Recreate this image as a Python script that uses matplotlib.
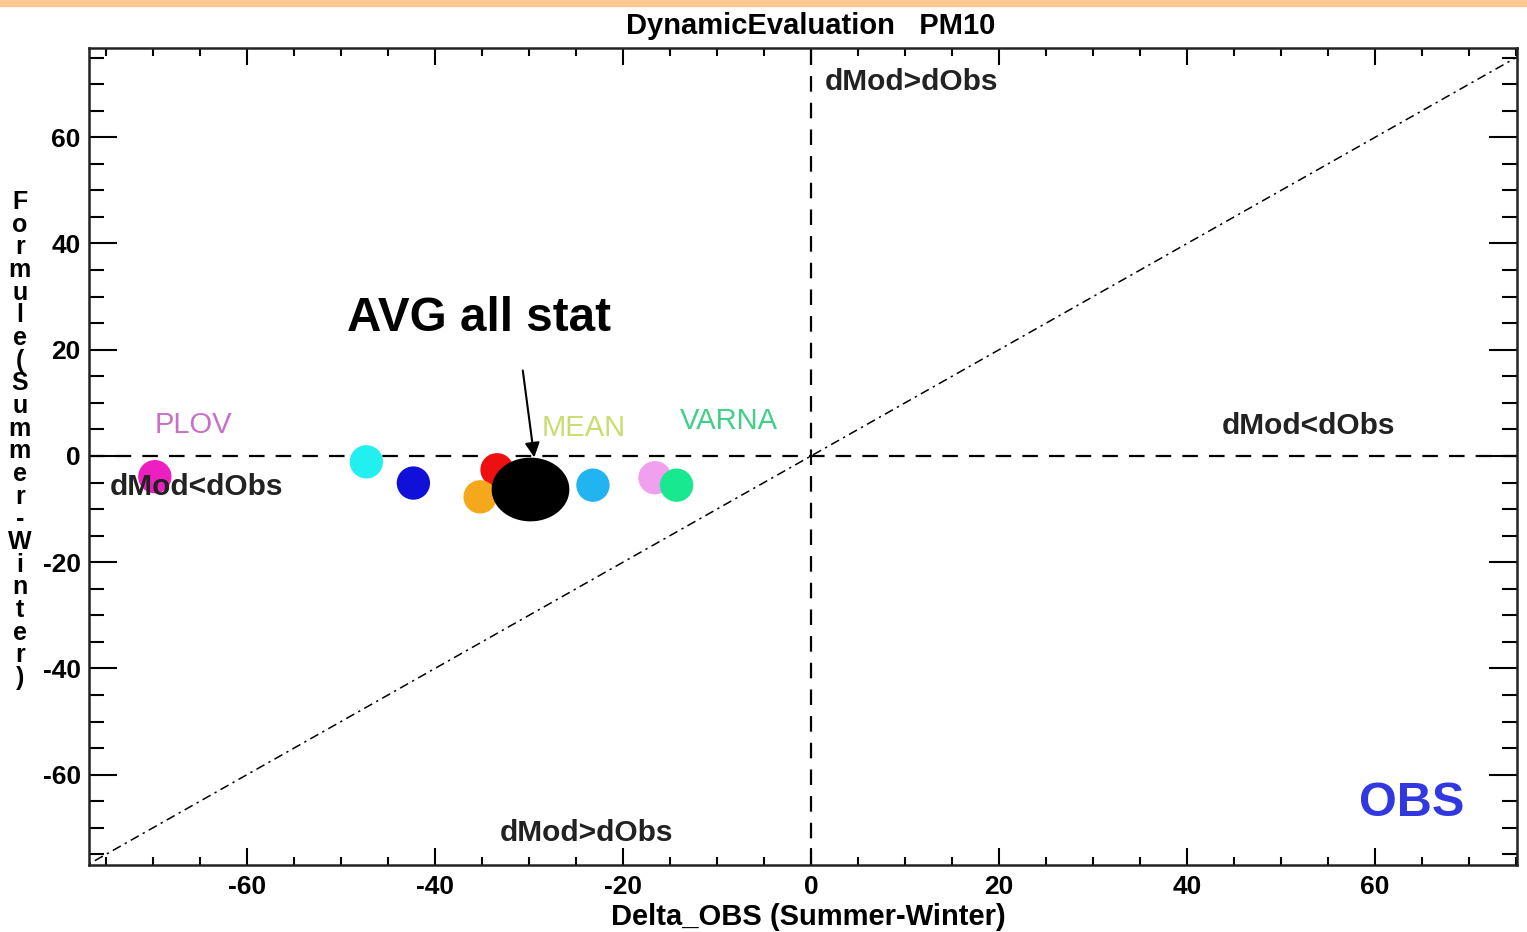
import numpy as np
import matplotlib
matplotlib.use("Agg")
import matplotlib.pyplot as plt
from matplotlib.path import Path
from matplotlib.patches import Rectangle
from matplotlib.ticker import MultipleLocator

plt.rcParams['font.family'] = ['Liberation Sans', 'DejaVu Sans']
plt.rcParams['axes.unicode_minus'] = False

# Station points: Delta_OBS vs Formule (Summer-Winter)
station_x = [-69.8, -47.3, -42.3, -33.4, -35.2]
station_y = [-3.9, -1.1, -5.1, -2.6, -7.7]
station_colors = ['#ee1fc0', '#22f0f0', '#1010d8', '#ee1010', '#f5a81c']

station2_x = [-23.2, -16.6, -14.3]
station2_y = [-5.5, -4.1, -5.5]
station2_colors = ['#22b4f0', '#f0a0ee', '#18e890']

# average of all stations
avg_x = [-29.9]
avg_y = [-6.2]

# station name labels
name_text = ['PLOV', 'MEAN', 'VARNA']
name_x = [-69.8, -28.7, -14.0]
name_y = [5.8, 5.3, 6.6]
name_colors = ['#c870c8', '#c8dc70', '#40d088']

# quadrant labels
quad_text = ['dMod>dObs', 'dMod<dObs', 'dMod<dObs', 'dMod>dObs']
quad_x = [1.5, 43.7, -74.6, -33.1]
quad_y = [70.4, 5.6, -5.8, -71.0]

xlim = (-76.8, 75.1)
ylim = (-77.0, 76.8)

fig = plt.figure(figsize=(15.27, 9.32), dpi=100)
ax = fig.add_axes([0.0583, 0.0719, 0.9352, 0.8766])

# orange strip on top of the slide
fig.patches.append(Rectangle((0, 0.9935), 1, 0.0065, transform=fig.transFigure,
                             color='#ffc890', zorder=0))

# reference lines
ax.axhline(0, color='black', lw=1.6, ls=(0, (7, 5)), zorder=1)
ax.axvline(0, color='black', lw=1.6, ls=(0, (7, 5)), zorder=1)
d = np.array([-80, 80])
ax.plot(d, d, color='black', lw=1.1, ls=(0, (6, 3, 1.5, 3)), zorder=1)

# points
ax.scatter(station_x, station_y, s=24 ** 2, c=station_colors, linewidths=0, zorder=3)
t = np.linspace(0, 2 * np.pi, 60)
ell = Path(np.column_stack([np.cos(t), 0.82 * np.sin(t)]), closed=True)
ax.scatter(avg_x, avg_y, s=56 ** 2, c='black', marker=ell, linewidths=0, zorder=4)
ax.scatter(station2_x, station2_y, s=24 ** 2, c=station2_colors, linewidths=0, zorder=5)

for s, x, y, c in zip(name_text, name_x, name_y, name_colors):
    ax.text(x, y, s, color=c, fontsize=21, ha='left', va='center', zorder=6)

for s, x, y in zip(quad_text, quad_x, quad_y):
    ax.text(x, y, s, color='#222222', fontsize=21.5, fontweight='bold',
            ha='left', va='center', zorder=6)

ax.text(-49.4, 25.8, 'AVG all stat', fontsize=34.3, fontweight='bold',
        ha='left', va='center', zorder=6)
ax.annotate('', xy=(-29.4, -0.8), xytext=(-30.7, 16.6),
            arrowprops=dict(arrowstyle='-|>', color='black', lw=1.5,
                            mutation_scale=22), zorder=6)

ax.text(0.926, 0.075, 'OBS', transform=ax.transAxes, color='#3238e0',
        fontsize=35, fontweight='bold', ha='center', va='center')

ax.set_xlim(*xlim)
ax.set_ylim(*ylim)
ax.xaxis.set_major_locator(MultipleLocator(20))
ax.xaxis.set_minor_locator(MultipleLocator(5))
ax.yaxis.set_major_locator(MultipleLocator(20))
ax.yaxis.set_minor_locator(MultipleLocator(5))
ax.tick_params(axis='x', which='major', direction='in', length=12, width=1.5,
               top=True, labelsize=19, pad=7)
ax.tick_params(axis='x', which='minor', direction='in', length=6, width=1.5, top=True)
ax.tick_params(axis='y', which='major', direction='in', length=20, width=1.5,
               right=True, labelsize=19, pad=6)
ax.tick_params(axis='y', which='minor', direction='in', length=11, width=1.5, right=True)
for lab in ax.get_xticklabels() + ax.get_yticklabels():
    lab.set_fontweight('bold')
for sp in ax.spines.values():
    sp.set_linewidth(1.8)
    sp.set_color('#222222')

ax.set_title('DynamicEvaluation   PM10', fontsize=21, fontweight='bold', pad=10, x=0.505)
ax.set_xlabel('Delta_OBS (Summer-Winter)', fontsize=21, fontweight='bold',
              labelpad=3, x=0.504)

ylabel = 'Formule (Summer-Winter)'.replace(' ', '')
fig.text(0.013, 0.528, '\n'.join(ylabel), fontsize=18, fontweight='bold',
         ha='center', va='center', linespacing=0.93)

fig.savefig('out.png', dpi=100)
